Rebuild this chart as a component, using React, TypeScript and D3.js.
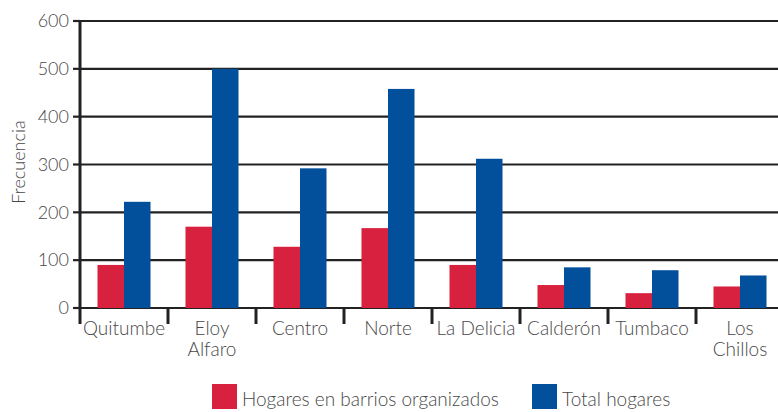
import React from "react";
import * as d3 from "d3";

const categories: string[][] = [
  ["Quitumbe"],
  ["Eloy", "Alfaro"],
  ["Centro"],
  ["Norte"],
  ["La Delicia"],
  ["Calderón"],
  ["Tumbaco"],
  ["Los", "Chillos"],
];
const seriesNames = ["Hogares en barrios organizados", "Total hogares"];
const organizados = [90, 170, 128, 167, 90, 48, 31, 45];
const totales = [222, 500, 292, 458, 312, 85, 79, 68];
const yTicks = [0, 100, 200, 300, 400, 500, 600];
const colors = ["#d8203f", "#02509c"];

const W = 778;
const H = 412;
const FONT = "Lato, 'Open Sans', sans-serif";
const TEXT = "#484848";

export default function App() {
  const left = 80;
  const right = 784;
  const y0 = 308;
  const yTop = 21;
  const keys = categories.map((c) => c.join(" "));
  const x0 = d3.scaleBand<string>().domain(keys).range([left, right]).padding(0);
  const x1 = d3
    .scaleBand<number>()
    .domain([0, 1])
    .range([0, x0.bandwidth()])
    .paddingInner(0)
    .paddingOuter(0.66);
  const y = d3.scaleLinear().domain([0, 600]).range([y0, yTop]);
  const series = [organizados, totales];

  return (
    <svg
      width={W}
      height={H}
      style={{ position: "absolute", left: 0, top: 0, background: "#fff" }}
      fontFamily={FONT}
      fontWeight={300}
    >
      {/* gridlines */}
      {yTicks.map((t) => (
        <line
          key={"g" + t}
          x1={left}
          x2={right}
          y1={y(t)}
          y2={y(t)}
          stroke="#222"
          strokeWidth={t === 0 ? 1.8 : 2.2}
        />
      ))}
      {/* bars */}
      {keys.map((k, i) =>
        series.map((s, j) => (
          <rect
            key={k + j}
            x={(x0(k) ?? 0) + (x1(j) ?? 0)}
            y={y(s[i])}
            width={x1.bandwidth()}
            height={y0 - y(s[i])}
            fill={colors[j]}
          />
        ))
      )}
      {/* y axis */}
      <line x1={left} x2={left} y1={yTop - 1} y2={y0 + 16} stroke="#222" strokeWidth={3} />
      {yTicks.map((t) => (
        <g key={"t" + t}>
          <line x1={left - 7} x2={left} y1={y(t)} y2={y(t)} stroke="#222" strokeWidth={2.2} />
          <text
            x={left - 11}
            y={y(t)}
            dy="0.35em"
            textAnchor="end"
            fontSize={18}
            fill={TEXT}
          >
            {t}
          </text>
        </g>
      ))}
      {/* x ticks at category boundaries */}
      {keys.slice(1).map((k) => (
        <line
          key={"xt" + k}
          x1={x0(k) ?? 0}
          x2={x0(k) ?? 0}
          y1={y0}
          y2={y0 + 16}
          stroke="#222"
          strokeWidth={3}
        />
      ))}
      {/* category labels */}
      {categories.map((lines, i) => (
        <text
          key={"c" + i}
          x={(x0(keys[i]) ?? 0) + x0.bandwidth() / 2}
          y={335}
          textAnchor="middle"
          fontSize={19}
          fill={TEXT}
        >
          {lines.map((l, li) => (
            <tspan key={li} x={(x0(keys[i]) ?? 0) + x0.bandwidth() / 2} dy={li === 0 ? 0 : 21}>
              {l}
            </tspan>
          ))}
        </text>
      ))}
      {/* y title */}
      <text
        transform={`translate(25,162) rotate(-90)`}
        textAnchor="middle"
        fontSize={18}
        fill={TEXT}
      >
        Frecuencia
      </text>
      {/* legend */}
      {seriesNames.map((n, j) => {
        const lx = j === 0 ? 212 : 532;
        return (
          <g key={"l" + j}>
            <rect x={lx} y={384} width={25} height={25} fill={colors[j]} />
            <text x={lx + 30} y={406} fontSize={19} fill={TEXT}>
              {n}
            </text>
          </g>
        );
      })}
    </svg>
  );
}
